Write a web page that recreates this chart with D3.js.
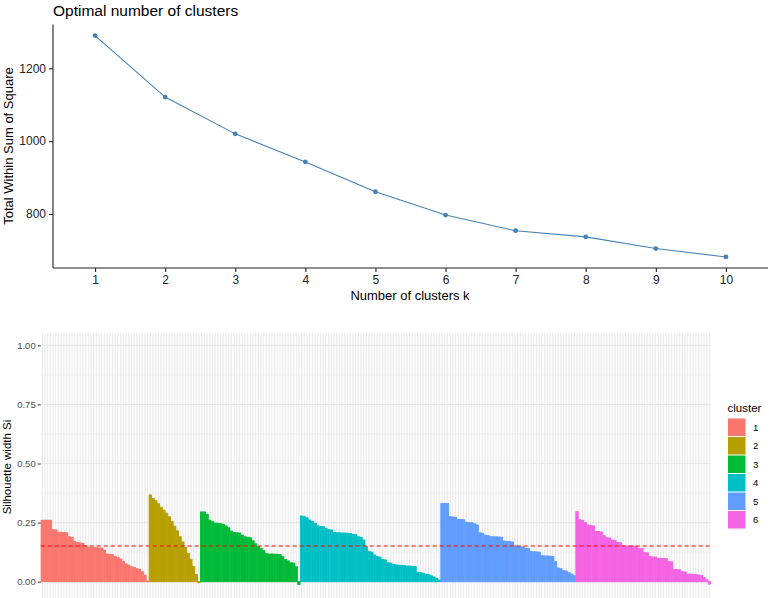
<!DOCTYPE html>
<html>
<head>
<meta charset="utf-8">
<script src="https://cdn.jsdelivr.net/npm/d3@7/dist/d3.min.js"></script>
<style>
  html, body { margin: 0; padding: 0; background: #fff; }
  svg { display: block; font-family: "Liberation Sans", Arial, sans-serif; }
</style>
</head>
<body>
<svg id="chart" width="770" height="598"></svg>
<script>
// ---------- Data: elbow plot ----------
const kValues = [1, 2, 3, 4, 5, 6, 7, 8, 9, 10];
const wssValues = [1290, 1121, 1020, 943, 861, 797, 754, 737, 705, 682];
const wssTicks = [800, 1000, 1200];

// ---------- Data: silhouette widths per cluster (sorted) ----------
const clusterNames = ["1", "2", "3", "4", "5", "6"];
const clusterColors = ["#F8766D", "#B79F00", "#00BA38", "#00BFC4", "#619CFF", "#F564E3"];
const sil1 = [0.26, 0.26, 0.26, 0.26, 0.22, 0.219, 0.209, 0.209, 0.208, 0.207,
  0.19, 0.188, 0.17, 0.165, 0.164, 0.162, 0.152, 0.146, 0.145, 0.145,
  0.144, 0.143, 0.142, 0.133, 0.117, 0.116, 0.114, 0.106, 0.103, 0.096,
  0.085, 0.075, 0.07, 0.063, 0.061, 0.055, 0.052, 0.042, 0.028, 0.003];
const sil2 = [0.367, 0.352, 0.343, 0.33, 0.315, 0.303, 0.29, 0.275, 0.255, 0.235,
  0.215, 0.19, 0.168, 0.145, 0.12, 0.095, 0.065, 0.03, -0.004];
const sil3 = [0.295, 0.295, 0.285, 0.26, 0.254, 0.248, 0.247, 0.245, 0.243, 0.236,
  0.228, 0.214, 0.208, 0.207, 0.206, 0.197, 0.19, 0.188, 0.186, 0.173,
  0.16, 0.148, 0.14, 0.131, 0.118, 0.117, 0.117, 0.116, 0.116, 0.115,
  0.106, 0.094, 0.088, 0.08, 0.079, 0.063, -0.012];
const sil4 = [0.278, 0.275, 0.27, 0.261, 0.255, 0.247, 0.236, 0.234, 0.233, 0.226,
  0.22, 0.219, 0.208, 0.207, 0.207, 0.206, 0.206, 0.205, 0.204, 0.2,
  0.199, 0.19, 0.188, 0.176, 0.148, 0.128, 0.125, 0.113, 0.106, 0.104,
  0.094, 0.092, 0.08, 0.079, 0.073, 0.071, 0.07, 0.069, 0.068, 0.066,
  0.066, 0.065, 0.064, 0.04, 0.038, 0.036, 0.032, 0.03, 0.025, 0.02,
  0.014, 0.007];
const sil5 = [0.331, 0.331, 0.331, 0.275, 0.274, 0.272, 0.264, 0.263, 0.262, 0.251,
  0.25, 0.249, 0.245, 0.24, 0.207, 0.205, 0.197, 0.195, 0.19, 0.19,
  0.19, 0.189, 0.188, 0.172, 0.171, 0.17, 0.168, 0.152, 0.149, 0.148,
  0.147, 0.141, 0.14, 0.128, 0.127, 0.126, 0.125, 0.11, 0.109, 0.109,
  0.108, 0.107, 0.085, 0.058, 0.055, 0.047, 0.045, 0.038, 0.032, 0.025];
const sil6 = [0.296, 0.262, 0.26, 0.25, 0.24, 0.238, 0.236, 0.213, 0.212, 0.21,
  0.195, 0.186, 0.185, 0.176, 0.175, 0.166, 0.165, 0.152, 0.151, 0.151,
  0.15, 0.15, 0.149, 0.141, 0.14, 0.123, 0.122, 0.106, 0.105, 0.104,
  0.099, 0.099, 0.098, 0.097, 0.085, 0.084, 0.052, 0.051, 0.05, 0.042,
  0.041, 0.032, 0.032, 0.031, 0.03, 0.028, 0.027, 0.018, 0.008, -0.01];
const silTicks = [0, 0.25, 0.5, 0.75, 1.0];
const silMinorTicks = [0.125, 0.375, 0.625, 0.875];
const avgSilWidth = 0.151;

const svg = d3.select("#chart");

// ================= TOP: Elbow plot =================
const tx = d3.scaleLinear().domain([0.4, 10.6]).range([53, 768]);
const ty = d3.scaleLinear().domain([651.6, 1320.4]).range([268, 24.5]);
const topG = svg.append("g");

topG.append("text").attr("x", 53).attr("y", 16).attr("font-size", 15.5)
  .attr("fill", "#000").text("Optimal number of clusters");

const yAxTop = topG.append("g").attr("transform", "translate(53,0)")
  .call(d3.axisLeft(ty).tickValues(wssTicks).tickSize(4).tickPadding(3).tickFormat(d3.format("d")));
const xAxTop = topG.append("g").attr("transform", "translate(0,268)")
  .call(d3.axisBottom(tx).tickValues(kValues).tickSize(4).tickPadding(3).tickFormat(d3.format("d")));
[yAxTop, xAxTop].forEach(ax => {
  ax.select(".domain").attr("stroke", "#222").attr("stroke-width", 1.1);
  ax.selectAll(".tick line").attr("stroke", "#222").attr("stroke-width", 1.1);
  ax.selectAll(".tick text").attr("font-size", 12).attr("fill", "#222")
    .attr("font-family", "Liberation Sans, Arial, sans-serif");
});
yAxTop.select(".domain").attr("d", `M0,${ty.range()[1]}V${ty.range()[0]}`);
xAxTop.select(".domain").attr("d", `M${tx.range()[0]},0H${tx.range()[1]}`);

topG.append("text").attr("x", 410).attr("y", 300).attr("text-anchor", "middle")
  .attr("font-size", 13).attr("fill", "#000").text("Number of clusters k");
topG.append("text").attr("transform", "translate(13,146) rotate(-90)")
  .attr("text-anchor", "middle").attr("font-size", 13).attr("fill", "#000")
  .text("Total Within Sum of Square");

const elbow = kValues.map((k, i) => ({ k, v: wssValues[i] }));
topG.append("path").datum(elbow)
  .attr("fill", "none").attr("stroke", "#4682B4").attr("stroke-width", 1.1)
  .attr("d", d3.line().x(d => tx(d.k)).y(d => ty(d.v)));
topG.selectAll("circle.pt").data(elbow).enter().append("circle")
  .attr("cx", d => tx(d.k)).attr("cy", d => ty(d.v)).attr("r", 2.4)
  .attr("fill", "#4682B4");

// ================= BOTTOM: Silhouette plot =================
const silSets = [sil1, sil2, sil3, sil4, sil5, sil6];
const bars = [];
silSets.forEach((arr, ci) => arr.forEach(v => bars.push({ id: bars.length, cluster: clusterNames[ci], v })));

const px0 = 40.7, px1 = 711, pyTop = 333.2, pyBot = 600;
const bx = d3.scalePoint().domain(bars.map(d => d.id)).range([px0, px1]).padding(0.6);
const step = bx.step();
const by = d3.scaleLinear().domain([0, 1]).range([581.7, 345.3]);
const color = d3.scaleOrdinal().domain(clusterNames).range(clusterColors);

const botG = svg.append("g");
botG.append("g").selectAll("line").data(bars).enter().append("line")
  .attr("x1", d => bx(d.id)).attr("x2", d => bx(d.id))
  .attr("y1", pyTop).attr("y2", pyBot)
  .attr("stroke", "#EBEBEB").attr("stroke-width", 1.25);
botG.append("g").selectAll("line").data(silMinorTicks).enter().append("line")
  .attr("x1", px0).attr("x2", px1).attr("y1", d => by(d)).attr("y2", d => by(d))
  .attr("stroke", "#EBEBEB").attr("stroke-width", 0.6);
botG.append("g").selectAll("line").data(silTicks).enter().append("line")
  .attr("x1", px0).attr("x2", px1).attr("y1", d => by(d)).attr("y2", d => by(d))
  .attr("stroke", "#E6E6E6").attr("stroke-width", 1.1);

botG.append("g").selectAll("rect").data(bars).enter().append("rect")
  .attr("x", d => bx(d.id) - step * 0.45)
  .attr("width", step * 0.9)
  .attr("y", d => Math.min(by(d.v), by(0)))
  .attr("height", d => Math.abs(by(d.v) - by(0)))
  .attr("fill", d => color(d.cluster))
  .attr("stroke", d => color(d.cluster))
  .attr("stroke-width", 0.9);

botG.append("line").attr("x1", px0).attr("x2", px1)
  .attr("y1", by(avgSilWidth)).attr("y2", by(avgSilWidth))
  .attr("stroke", "#FF0000").attr("stroke-width", 1.1).attr("stroke-dasharray", "4,3");

const yAxBot = botG.append("g").attr("transform", `translate(${px0},0)`)
  .call(d3.axisLeft(by).tickValues(silTicks).tickSize(3).tickPadding(2).tickFormat(d3.format(".2f")));
yAxBot.select(".domain").remove();
yAxBot.selectAll(".tick line").attr("stroke", "#333").attr("stroke-width", 1);
yAxBot.selectAll(".tick text").attr("font-size", 9.5).attr("fill", "#4D4D4D")
  .attr("font-family", "Liberation Sans, Arial, sans-serif");

botG.append("text").attr("transform", "translate(11,467) rotate(-90)")
  .attr("text-anchor", "middle").attr("font-size", 11.5).attr("fill", "#000")
  .text("Silhouette width Si");

const lg = botG.append("g");
lg.append("text").attr("x", 727.5).attr("y", 412).attr("font-size", 11.5).attr("fill", "#000").text("cluster");
clusterNames.forEach((c, i) => {
  const y0 = 418 + i * 18.5;
  lg.append("rect").attr("x", 728).attr("y", y0 + 0.5).attr("width", 17.5).attr("height", 17.5)
    .attr("fill", color(c));
  lg.append("text").attr("x", 753).attr("y", y0 + 9.25).attr("dy", "0.35em")
    .attr("font-size", 9.5).attr("fill", "#000").text(c);
});
</script>
</body>
</html>
